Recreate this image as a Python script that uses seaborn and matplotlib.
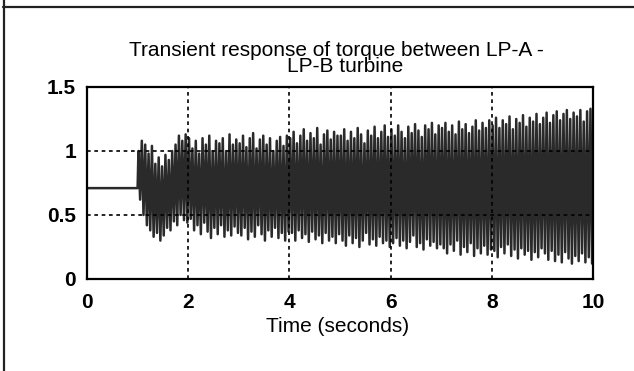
import numpy as np
import pandas as pd
import matplotlib
matplotlib.use("Agg")
import matplotlib.pyplot as plt
import seaborn as sns
from matplotlib.lines import Line2D

# ---------------- data ----------------
pre_time = [0.0, 1.0]
pre_value = [0.71, 0.71]
osc_start = 1.0          # s, start of oscillation
osc_freq = 15            # oscillation cycles per second (counted)

# peak values per cycle, one row per second (1-2, 2-3, ..., 9-10 s)
upper_peaks = [
    1.00, 1.08, 1.05, 0.98, 1.04, 0.90, 0.95, 0.88, 0.97, 0.93, 1.00, 1.05, 1.12, 1.08, 1.13,
    1.10, 1.02, 1.08, 0.98, 1.10, 1.05, 1.12, 1.00, 1.08, 1.06, 1.10, 1.00, 1.13, 1.05, 1.09,
    1.06, 1.12, 1.03, 1.10, 1.14, 1.02, 1.09, 1.12, 1.05, 1.10, 1.00, 1.08, 1.11, 1.04, 1.12,
    1.10, 1.15, 1.06, 1.12, 1.17, 1.08, 1.14, 1.10, 1.18, 1.05, 1.13, 1.16, 1.09, 1.15, 1.12,
    1.12, 1.17, 1.08, 1.15, 1.10, 1.18, 1.13, 1.06, 1.16, 1.12, 1.19, 1.10, 1.15, 1.20, 1.11,
    1.17, 1.12, 1.20, 1.15, 1.10, 1.19, 1.14, 1.21, 1.16, 1.11, 1.20, 1.17, 1.22, 1.13, 1.20,
    1.18, 1.22, 1.15, 1.20, 1.13, 1.23, 1.17, 1.21, 1.14, 1.19, 1.24, 1.16, 1.22, 1.18, 1.24,
    1.20, 1.26, 1.18, 1.24, 1.21, 1.27, 1.17, 1.25, 1.22, 1.28, 1.19, 1.26, 1.23, 1.29, 1.21,
    1.26, 1.30, 1.22, 1.28, 1.31, 1.24, 1.29, 1.32, 1.25, 1.30, 1.27, 1.32, 1.23, 1.31, 1.33,
]
lower_peaks = [
    0.62, 0.50, 0.42, 0.38, 0.33, 0.36, 0.30, 0.34, 0.40, 0.38, 0.45, 0.42, 0.50, 0.46, 0.44,
    0.47, 0.38, 0.42, 0.35, 0.44, 0.37, 0.32, 0.40, 0.35, 0.42, 0.33, 0.38, 0.34, 0.41, 0.36,
    0.34, 0.40, 0.31, 0.37, 0.33, 0.42, 0.35, 0.30, 0.38, 0.33, 0.40, 0.32, 0.36, 0.30, 0.37,
    0.36, 0.30, 0.38, 0.32, 0.35, 0.29, 0.37, 0.31, 0.34, 0.28, 0.36, 0.30, 0.33, 0.28, 0.35,
    0.30, 0.26, 0.34, 0.28, 0.32, 0.25, 0.30, 0.36, 0.27, 0.31, 0.26, 0.33, 0.28, 0.30, 0.25,
    0.28, 0.32, 0.26, 0.30, 0.24, 0.29, 0.34, 0.25, 0.28, 0.23, 0.31, 0.26, 0.29, 0.24, 0.27,
    0.24, 0.20, 0.27, 0.22, 0.30, 0.19, 0.25, 0.21, 0.28, 0.18, 0.24, 0.20, 0.26, 0.19, 0.23,
    0.22, 0.17, 0.25, 0.20, 0.27, 0.18, 0.23, 0.16, 0.24, 0.19, 0.22, 0.15, 0.21, 0.17, 0.24,
    0.20, 0.15, 0.22, 0.14, 0.19, 0.13, 0.21, 0.16, 0.12, 0.18, 0.14, 0.20, 0.13, 0.17, 0.12,
]
end_time = [10.0]
end_value = [0.85]

x_ticks = [0, 2, 4, 6, 8, 10]
x_ticklabels = ["0", "2", "4", "6", "8", "10"]
y_ticks = [0, 0.5, 1, 1.5]
y_ticklabels = ["0", "0.5", "1", "1.5"]
title_lines = ["Transient response of torque between LP-A -   ", "LP-B turbine"]
x_label = "Time (seconds)"

# ---------------- build series ----------------
times = list(pre_time)
values = list(pre_value)
for i, (u, l) in enumerate(zip(upper_peaks, lower_peaks)):
    base = osc_start + i / osc_freq
    times += [base + 0.25 / osc_freq, base + 0.75 / osc_freq]
    values += [u, l]
times += end_time
values += end_value
df = pd.DataFrame({"t": times, "torque": values})

# ---------------- plot ----------------
sns.set_theme(style="white")
plt.rcParams["font.family"] = ["Liberation Sans", "DejaVu Sans"]

W, H = 634, 371
fig = plt.figure(figsize=(W / 100, H / 100), dpi=100)
ax = fig.add_axes([87 / W, (H - 279) / H, (593 - 87) / W, (279 - 87) / H])

sns.lineplot(data=df, x="t", y="torque", ax=ax, estimator=None, sort=False,
             color="#2a2a2a", linewidth=1.8, zorder=2)

ax.set_xlim(0, 10)
ax.set_ylim(0, 1.5)
ax.set_xticks(x_ticks)
ax.set_xticklabels(x_ticklabels)
ax.set_yticks(y_ticks)
ax.set_yticklabels(y_ticklabels)
ax.set_xlabel("")
ax.set_ylabel("")

ax.set_axisbelow(False)
ax.grid(True, color="black", linestyle=(0, (2.2, 2.2)), linewidth=1.2)
ax.tick_params(axis="both", length=0, labelsize=15, colors="black")
ax.tick_params(axis="x", pad=10)
ax.tick_params(axis="y", pad=8)
for lab in ax.get_xticklabels() + ax.get_yticklabels():
    lab.set_fontweight("bold")
for sp in ax.spines.values():
    sp.set_visible(True)
    sp.set_color("black")
    sp.set_linewidth(1.6)

# title (two lines, one text) and x label
fig.text(345 / W, 1 - 41 / H, "\n".join(title_lines), ha="center", va="top",
         multialignment="center", linespacing=0.8, fontsize=15, color="black")
fig.text(338 / W, 1 - 332 / H, x_label, ha="center", va="baseline", fontsize=15, color="black")

# frame lines of the surrounding cell
fig.add_artist(Line2D([4 / W, 4 / W], [0, 1], transform=fig.transFigure, color="#222222", linewidth=1.6))
fig.add_artist(Line2D([3 / W, 1], [1 - 7 / H, 1 - 7 / H], transform=fig.transFigure, color="#222222", linewidth=1.6))

fig.savefig("out.png", dpi=100)
